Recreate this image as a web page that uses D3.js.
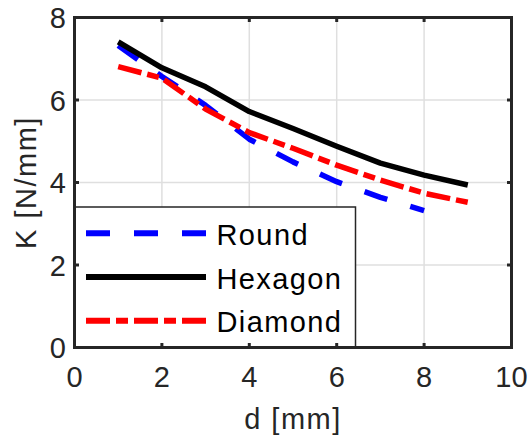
<!DOCTYPE html>
<html>
<head>
<meta charset="utf-8">
<script src="https://cdn.jsdelivr.net/npm/d3@7"></script>
<style>
  body { margin: 0; background: #fff; }
  svg { display: block; font-family: 'Liberation Sans', Arial, sans-serif; }
  .tick-label { fill: #262626; font-size: 29px; }
  .axis-title { fill: #262626; font-size: 29px; letter-spacing: 1.5px; }
  .legend-label { fill: #000; font-size: 29px; letter-spacing: 1.4px; }
</style>
</head>
<body>
<svg id="chart"></svg>
<script>
// Stiffness vs. diameter for the three cross sections
const diameters = [1, 2, 3, 4, 5, 6, 7, 8, 9];
const roundK = [7.32, 6.57, 5.87, 5.05, 4.50, 4.02, 3.64, 3.32];
const hexagonK = [7.41, 6.78, 6.32, 5.72, 5.31, 4.88, 4.47, 4.18, 3.94];
const diamondK = [6.81, 6.53, 5.78, 5.21, 4.83, 4.42, 4.06, 3.74, 3.52];
const xTicks = [0, 2, 4, 6, 8, 10];
const yTicks = [0, 2, 4, 6, 8];

const seriesList = [
  { name: 'Round', values: roundK, color: '#0000ff', dash: '24,24' },
  { name: 'Hexagon', values: hexagonK, color: '#000000', dash: null },
  { name: 'Diamond', values: diamondK, color: '#ff0000', dash: '24,6,12,6' },
];

class LinePlot {
  constructor(_config) {
    this.config = {
      parentElement: _config.parentElement,
      containerWidth: _config.containerWidth || 531,
      containerHeight: _config.containerHeight || 436,
      margin: _config.margin || {
        top: 17.5, right: 19.5, bottom: 88.5, left: 74.5,
      },
    };
    this.initVis();
  }

  initVis() {
    const vis = this;
    const m = vis.config.margin;
    vis.width = vis.config.containerWidth - m.left - m.right;
    vis.height = vis.config.containerHeight - m.top - m.bottom;

    vis.xScale = d3.scaleLinear().domain([0, 10]).range([0, vis.width]);
    vis.yScale = d3.scaleLinear().domain([0, 8]).range([vis.height, 0]);

    vis.svg = d3.select(vis.config.parentElement)
      .attr('width', vis.config.containerWidth)
      .attr('height', vis.config.containerHeight);

    vis.chart = vis.svg.append('g')
      .attr('transform', `translate(${m.left},${m.top})`);

    vis.renderVis();
  }

  renderVis() {
    const vis = this;
    const axisColor = '#262626';

    // grid
    vis.chart.append('g').selectAll('line.gx')
      .data(xTicks.slice(1, -1))
      .join('line')
      .attr('x1', (d) => vis.xScale(d)).attr('x2', (d) => vis.xScale(d))
      .attr('y1', 0).attr('y2', vis.height)
      .attr('stroke', '#dfdfdf').attr('stroke-width', 1.5);
    vis.chart.append('g').selectAll('line.gy')
      .data(yTicks.slice(1, -1))
      .join('line')
      .attr('y1', (d) => vis.yScale(d)).attr('y2', (d) => vis.yScale(d))
      .attr('x1', 0).attr('x2', vis.width)
      .attr('stroke', '#dfdfdf').attr('stroke-width', 1.5);

    // data lines
    const line = d3.line()
      .x((d) => vis.xScale(d[0]))
      .y((d) => vis.yScale(d[1]));

    vis.chart.append('g').selectAll('path')
      .data(seriesList)
      .join('path')
      .attr('d', (s) => line(s.values.map((v, i) => [diameters[i], v])))
      .attr('fill', 'none')
      .attr('stroke', (s) => s.color)
      .attr('stroke-width', 5.5)
      .attr('stroke-linejoin', 'round')
      .attr('stroke-dasharray', (s) => s.dash);

    // legend
    const lg = vis.chart.append('g');
    lg.append('rect')
      .attr('x', -0.5).attr('y', 189.5)
      .attr('width', 281.5).attr('height', vis.height - 189.5)
      .attr('fill', '#fff').attr('stroke', axisColor).attr('stroke-width', 1.5);
    const rows = lg.selectAll('g.row')
      .data(seriesList)
      .join('g')
      .attr('transform', (d, i) => `translate(0,${215.8 + i * 43.7})`);
    rows.append('line')
      .attr('x1', 11.5).attr('x2', 131.5)
      .attr('stroke', (s) => s.color)
      .attr('stroke-width', 6)
      .attr('stroke-dasharray', (s) => s.dash);
    rows.append('text')
      .attr('class', 'legend-label')
      .attr('x', 142).attr('y', 11.5)
      .text((s) => s.name);

    // axes box with inward ticks on all sides
    const tickLen = 4.5;
    vis.chart.append('rect')
      .attr('width', vis.width).attr('height', vis.height)
      .attr('fill', 'none').attr('stroke', axisColor).attr('stroke-width', 3);
    const ticks = vis.chart.append('g').attr('stroke', axisColor).attr('stroke-width', 3);
    xTicks.slice(1, -1).forEach((t) => {
      const x = vis.xScale(t);
      ticks.append('line').attr('x1', x).attr('x2', x).attr('y1', vis.height).attr('y2', vis.height - tickLen);
      ticks.append('line').attr('x1', x).attr('x2', x).attr('y1', 0).attr('y2', tickLen);
    });
    yTicks.slice(1, -1).forEach((t) => {
      const y = vis.yScale(t);
      ticks.append('line').attr('y1', y).attr('y2', y).attr('x1', 0).attr('x2', tickLen);
      ticks.append('line').attr('y1', y).attr('y2', y).attr('x1', vis.width).attr('x2', vis.width - tickLen);
    });

    // tick labels
    vis.chart.append('g').selectAll('text')
      .data(xTicks)
      .join('text')
      .attr('class', 'tick-label')
      .attr('x', (d) => vis.xScale(d))
      .attr('y', vis.height + 39.5)
      .attr('text-anchor', 'middle')
      .text((d) => d);
    vis.chart.append('g').selectAll('text')
      .data(yTicks)
      .join('text')
      .attr('class', 'tick-label')
      .attr('x', -8.5)
      .attr('y', (d) => vis.yScale(d) + 10.5)
      .attr('text-anchor', 'end')
      .text((d) => d);

    // axis titles
    vis.chart.append('text')
      .attr('class', 'axis-title')
      .attr('x', vis.width / 2)
      .attr('y', vis.height + 81.5)
      .attr('text-anchor', 'middle')
      .text('d [mm]');
    vis.chart.append('text')
      .attr('class', 'axis-title')
      .attr('transform', `translate(-39,${vis.height / 2}) rotate(-90)`)
      .attr('text-anchor', 'middle')
      .text('K [N/mm]');
  }
}

new LinePlot({ parentElement: '#chart' });
</script>
</body>
</html>
